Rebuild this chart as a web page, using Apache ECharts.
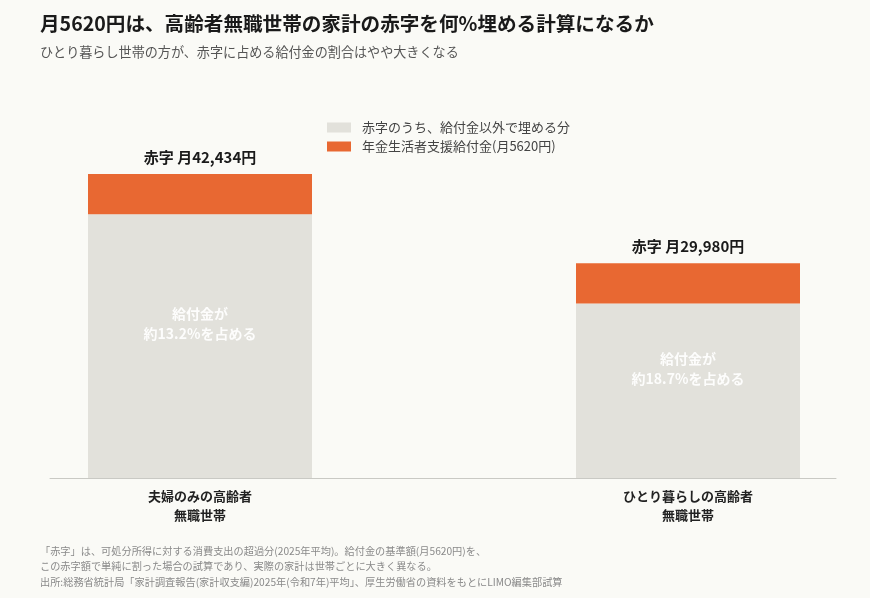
<!DOCTYPE html>
<html><head><meta charset="utf-8">
<script src="https://cdn.jsdelivr.net/npm/echarts@6/dist/echarts.min.js"></script>
<style>html,body{margin:0;padding:0;background:#FAFAF6;}#c{width:870px;height:598px;}</style>
</head><body><div id="c"></div>
<script>
const categories = ['夫婦のみの高齢者\n無職世帯', 'ひとり暮らしの高齢者\n無職世帯'];
const deficitTotals = [42434, 29980];
const benefitValues = [5620, 5620];
const otherValues = [36814, 24360];
const totalLabels = ['赤字 月42,434円', '赤字 月29,980円'];
const shareLabels = ['給付金が\n約13.2%を占める', '給付金が\n約18.7%を占める'];
const seriesNames = ['赤字のうち、給付金以外で埋める分', '年金生活者支援給付金(月5620円)'];

const FONT = '"Noto Sans CJK JP", "Noto Sans", sans-serif';
const chart = echarts.init(document.getElementById('c'));
chart.setOption({
  backgroundColor: '#FAFAF6',
  textStyle: { fontFamily: FONT },
  title: [
    { text: '月5620円は、高齢者無職世帯の家計の赤字を何%埋める計算になるか', left: 35, top: 9,
      textStyle: { fontSize: 19.6, fontWeight: 'bold', color: '#1a1a1a', fontFamily: FONT } },
    { text: 'ひとり暮らし世帯の方が、赤字に占める給付金の割合はやや大きくなる', left: 35, top: 40,
      textStyle: { fontSize: 13.1, fontWeight: 'normal', color: '#555', fontFamily: FONT } },
    { text: '「赤字」は、可処分所得に対する消費支出の超過分(2025年平均)。給付金の基準額(月5620円)を、\nこの赤字額で単純に割った場合の試算であり、実際の家計は世帯ごとに大きく異なる。\n出所:総務省統計局「家計調査報告(家計収支編)2025年(令和7年)平均」、厚生労働省の資料をもとにLIMO編集部試算',
      left: 35, top: 538,
      textStyle: { fontSize: 10.2, fontWeight: 'normal', color: '#8a8a8a', lineHeight: 15.5, fontFamily: FONT } }
  ],
  legend: {
    orient: 'vertical', left: 322, top: 116, itemWidth: 24, itemHeight: 10, itemGap: 6,
    icon: 'rect', data: seriesNames,
    textStyle: { fontSize: 13, color: '#444', fontFamily: FONT, padding: [0, 0, 0, 6] }
  },
  grid: [
    { left: 200, right: 182, top: 174, bottom: 120 },
    { left: 50, right: 34, top: 174, bottom: 120 }
  ],
  xAxis: [
    { type: 'category', data: categories, boundaryGap: false, gridIndex: 0,
      axisLine: { show: false }, axisTick: { show: false },
      axisLabel: { fontSize: 13, fontWeight: 'bold', color: '#222', lineHeight: 19, margin: 9, fontFamily: FONT } },
    { type: 'value', gridIndex: 1, min: 0, max: 1,
      axisLine: { show: true, lineStyle: { color: '#c9c9c4', width: 1 } },
      axisTick: { show: false }, axisLabel: { show: false }, splitLine: { show: false } }
  ],
  yAxis: [
    { type: 'value', gridIndex: 0, min: 0, max: 'dataMax', show: false, splitLine: { show: false } },
    { type: 'value', gridIndex: 1, min: 0, max: 1, show: false, splitLine: { show: false } }
  ],
  series: [
    { name: seriesNames[0], type: 'bar', stack: 'a', data: otherValues, barWidth: 224, clip: false,
      itemStyle: { color: '#E2E1DB' },
      label: { show: true, position: 'inside', offset: [0, -22],
        formatter: p => shareLabels[p.dataIndex],
        color: 'rgba(255,255,255,0.92)', fontSize: 14, fontWeight: 'bold', lineHeight: 20, fontFamily: FONT } },
    { name: seriesNames[1], type: 'bar', stack: 'a', data: benefitValues, barWidth: 224, clip: false,
      itemStyle: { color: '#E86832' },
      label: { show: true, position: 'top', distance: 9,
        formatter: p => totalLabels[p.dataIndex],
        color: '#1a1a1a', fontSize: 15, fontWeight: 'bold', fontFamily: FONT } }
  ]
});
</script></body></html>
